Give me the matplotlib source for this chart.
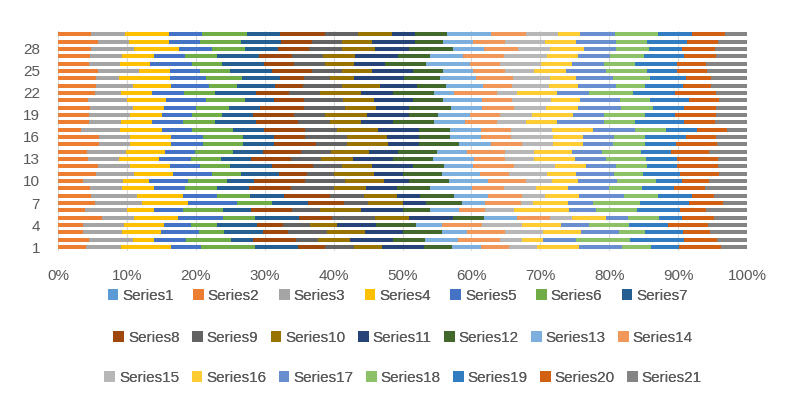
import numpy as np
import matplotlib.pyplot as plt
from matplotlib.patches import Patch

plt.rcParams['font.family'] = ['Liberation Sans Narrow', 'Liberation Sans', 'DejaVu Sans']

categories = list(range(1, 31))
series_names = ['Series%d' % i for i in range(1, 22)]
colors = ['#5B9BD5', '#ED7D31', '#A5A5A5', '#FFC000', '#4472C4', '#70AD47', '#255E91',
          '#9E480E', '#636363', '#997300', '#264478', '#43682B', '#7CAFDD', '#F1975A',
          '#B7B7B7', '#FFCD33', '#698ED0', '#8CC168', '#327DC2', '#D26012', '#848484']

# one list per category: Series1..Series21 (Series1 is empty everywhere)
cat01 = [0, 62, 80, 110, 68, 122, 95, 60, 65, 63, 95, 62, 65, 63, 62, 95, 95, 65, 63, 94, 59]
cat02 = [0, 70, 97, 48, 72, 100, 50, 97, 48, 72, 96, 72, 73, 95, 49, 48, 73, 122, 120, 73, 68]
cat03 = [0, 55, 89, 86, 85, 57, 87, 56, 87, 85, 85, 87, 56, 87, 85, 85, 85, 58, 85, 59, 84]
cat04 = [0, 57, 90, 90, 60, 58, 90, 59, 60, 60, 88, 90, 58, 90, 89, 88, 62, 90, 88, 88, 88]
cat05 = [0, 99, 71, 99, 100, 73, 98, 74, 96, 75, 99, 71, 74, 73, 50, 75, 50, 70, 50, 73, 73]
cat06 = [0, 60, 94, 61, 64, 91, 62, 92, 63, 92, 93, 62, 63, 60, 65, 122, 60, 93, 95, 60, 91]
cat07 = [0, 82, 105, 105, 108, 80, 80, 80, 54, 78, 52, 81, 52, 80, 27, 78, 55, 107, 108, 78, 53]
cat08 = [0, 75, 102, 102, 76, 75, 77, 103, 75, 75, 50, 77, 75, 77, 51, 77, 100, 77, 75, 50, 74]
cat09 = [0, 72, 72, 70, 70, 73, 70, 95, 95, 72, 70, 73, 95, 72, 71, 72, 93, 72, 72, 71, 93]
cat10 = [0, 57, 88, 59, 88, 87, 60, 115, 88, 87, 58, 88, 87, 87, 58, 58, 87, 87, 58, 60, 86]
cat11 = [0, 85, 85, 87, 87, 65, 85, 63, 62, 88, 65, 87, 85, 65, 85, 65, 86, 65, 84, 86, 63]
cat12 = [0, 89, 73, 88, 69, 66, 94, 91, 67, 67, 90, 70, 66, 92, 90, 70, 67, 70, 68, 92, 64]
cat13 = [0, 67, 70, 90, 70, 67, 68, 90, 68, 70, 90, 90, 92, 68, 67, 90, 70, 90, 70, 92, 64]
cat14 = [0, 66, 86, 88, 66, 86, 66, 87, 67, 84, 66, 86, 68, 84, 65, 87, 66, 87, 67, 86, 85]
cat15 = [0, 92, 70, 92, 70, 91, 69, 94, 69, 91, 70, 91, 70, 69, 70, 68, 68, 70, 70, 92, 67]
cat16 = [0, 92, 70, 92, 70, 91, 69, 70, 93, 90, 71, 69, 70, 68, 94, 66, 70, 70, 91, 68, 69]
cat17 = [0, 52, 87, 93, 68, 92, 70, 92, 70, 93, 91, 69, 70, 67, 93, 92, 93, 70, 70, 67, 44]
cat18 = [0, 70, 72, 68, 70, 72, 92, 93, 72, 70, 71, 92, 70, 70, 65, 70, 105, 70, 110, 70, 71]
cat19 = [0, 70, 92, 70, 68, 67, 70, 92, 70, 93, 93, 67, 70, 68, 72, 92, 68, 93, 67, 92, 69]
cat20 = [0, 72, 95, 70, 73, 72, 70, 98, 92, 70, 73, 94, 71, 72, 70, 73, 95, 72, 70, 72, 69]
cat21 = [0, 67, 87, 88, 90, 87, 65, 66, 89, 68, 87, 68, 87, 68, 87, 66, 89, 66, 89, 66, 63]
cat22 = [0, 82, 60, 68, 72, 70, 92, 73, 70, 92, 71, 92, 45, 95, 45, 90, 73, 97, 95, 92, 69]
cat23 = [0, 85, 82, 85, 87, 61, 85, 64, 86, 85, 85, 63, 84, 65, 83, 64, 86, 64, 85, 63, 81]
cat24 = [0, 84, 53, 113, 82, 80, 85, 55, 57, 53, 112, 81, 82, 83, 82, 57, 83, 83, 82, 55, 81]
cat25 = [0, 89, 93, 68, 69, 67, 93, 90, 68, 67, 90, 69, 67, 70, 67, 70, 90, 91, 68, 68, 89]
cat26 = [0, 69, 70, 67, 94, 67, 95, 67, 68, 66, 69, 93, 97, 68, 92, 70, 70, 70, 95, 65, 91]
cat27 = [0, 72, 72, 70, 71, 72, 93, 73, 71, 72, 95, 72, 73, 92, 96, 71, 72, 75, 90, 72, 69]
cat28 = [0, 74, 96, 100, 74, 74, 74, 71, 74, 74, 74, 99, 70, 76, 72, 76, 72, 74, 74, 74, 71]
cat29 = [0, 89, 70, 90, 69, 91, 91, 69, 67, 68, 95, 64, 67, 70, 90, 69, 90, 69, 91, 70, 64]
cat30 = [0, 74, 76, 99, 73, 102, 74, 101, 73, 75, 52, 73, 98, 77, 73, 50, 77, 97, 75, 75, 49]

rows = [cat01, cat02, cat03, cat04, cat05, cat06, cat07, cat08, cat09, cat10,
        cat11, cat12, cat13, cat14, cat15, cat16, cat17, cat18, cat19, cat20,
        cat21, cat22, cat23, cat24, cat25, cat26, cat27, cat28, cat29, cat30]

data = np.array(rows, dtype=float)
pct = data / data.sum(axis=1, keepdims=True) * 100

txt = '#595959'
fig = plt.figure(figsize=(7.86, 3.97), dpi=100)
ax = fig.add_axes([0.0738, 0.3685, 0.8766, 0.5545])

left = np.zeros(len(categories))
for j in range(len(series_names)):
    ax.barh(categories, pct[:, j], left=left, height=0.55, color=colors[j], zorder=2)
    left += pct[:, j]

ax.set_xlim(0, 100)
ax.set_ylim(0.5, 30.5)
ax.set_xticks(range(0, 101, 10))
ax.set_xticklabels(['%d%%' % v for v in range(0, 101, 10)])
ax.set_yticks(range(1, 31, 3))
ax.tick_params(axis='both', length=0, colors=txt, labelsize=11)
ax.tick_params(axis='x', pad=13)
ax.tick_params(axis='y', pad=13)
ax.grid(axis='x', color='#D9D9D9', linewidth=0.8, zorder=0)
for s in ax.spines.values():
    s.set_visible(False)

# legend flows in three rows of seven, like the spreadsheet original
patches = [Patch(facecolor=c, label=n) for c, n in zip(colors, series_names)]
row_y = [0.254, 0.149, 0.048]
row_x = [0.506, 0.513, 0.513]
row_gap = [1.28, 0.82, 0.82]
for r in range(3):
    leg = fig.legend(handles=patches[r * 7:(r + 1) * 7], loc='center',
                     bbox_to_anchor=(row_x[r], row_y[r]), ncol=7, frameon=False,
                     fontsize=11, handlelength=0.7, handleheight=0.7,
                     handletextpad=0.25, columnspacing=row_gap[r], labelcolor=txt)
    fig.add_artist(leg)

fig.savefig('out.png', dpi=100)
